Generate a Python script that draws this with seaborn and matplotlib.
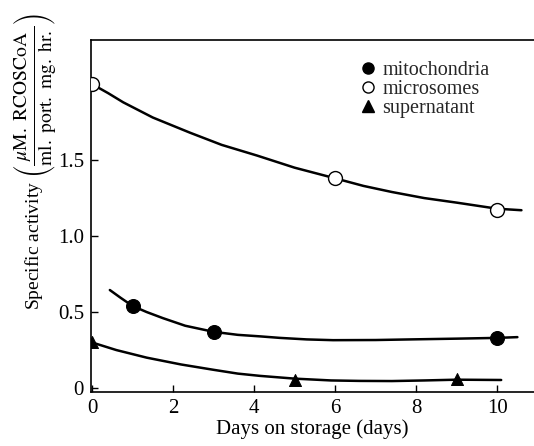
import matplotlib
matplotlib.use("Agg")
import matplotlib.pyplot as plt
import seaborn as sns
import pandas as pd
from matplotlib.lines import Line2D

sns.set_theme(style="ticks")
plt.rcParams['font.family'] = ['Liberation Serif', 'DejaVu Serif']
plt.rcParams['mathtext.fontset'] = 'stix'

# measured points
mito_x = [1, 3, 10]
mito_y = [0.54, 0.37, 0.33]
micro_x = [0, 6, 10]
micro_y = [2.00, 1.38, 1.17]
super_x = [0, 5, 9]
super_y = [0.30, 0.053, 0.06]

# hand-drawn fitted curves
mito_cx = [0.44, 0.7, 1.0, 1.35, 1.75, 2.3, 3.0, 3.6, 4.15, 4.64, 5.3, 5.95,
           7.0, 7.85, 9.0, 10.0, 10.5]
mito_cy = [0.645, 0.595, 0.54, 0.50, 0.46, 0.41, 0.37, 0.35, 0.34, 0.33,
           0.32, 0.315, 0.316, 0.32, 0.325, 0.33, 0.335]
micro_cx = [0.0, 0.4, 0.77, 1.5, 2.42, 3.2, 4.07, 5.0, 6.0, 6.7, 7.4, 8.2,
            9.0, 9.5, 10.0, 10.3, 10.6]
micro_cy = [2.00, 1.94, 1.88, 1.78, 1.68, 1.60, 1.53, 1.45, 1.38, 1.33, 1.29,
            1.25, 1.22, 1.20, 1.18, 1.175, 1.17]
super_cx = [0.0, 0.6, 1.35, 2.2, 3.0, 3.6, 4.15, 5.0, 5.9, 6.6, 7.4, 8.2,
            9.0, 10.1]
super_cy = [0.30, 0.25, 0.20, 0.155, 0.12, 0.095, 0.08, 0.062, 0.05, 0.047,
            0.046, 0.05, 0.055, 0.053]

xticks = [0, 2, 4, 6, 8, 10]
yticks = [0, 0.5, 1.0, 1.5]
yticklabels = ["0", "0.5", "1.0", "1.5"]

fig = plt.figure(figsize=(5.34, 4.46), dpi=100)
ax = fig.add_axes([91/534, 1-392/446, 1-91/534, 352/446])

for cx, cy in [(mito_cx, mito_cy), (micro_cx, micro_cy), (super_cx, super_cy)]:
    sns.lineplot(x=cx, y=cy, ax=ax, color="black", lw=1.8, sort=False,
                 estimator=None, legend=False)

ms = 100
sns.scatterplot(x=mito_x, y=mito_y, ax=ax, marker="o", s=ms, color="black",
                edgecolor="black", zorder=5, legend=False)
sns.scatterplot(x=micro_x, y=micro_y, ax=ax, marker="o", s=ms, color="white",
                edgecolor="black", linewidth=1.0, zorder=5, legend=False)
sns.scatterplot(x=super_x, y=super_y, ax=ax, marker="^", s=75, color="black",
                edgecolor="black", zorder=5, legend=False)

ax.set_xlim(-0.025, 10.91)
ax.set_ylim(-0.026, 2.29)
ax.set_xticks(xticks)
ax.set_xticklabels([str(t) for t in xticks])
ax.set_yticks(yticks)
ax.set_yticklabels(yticklabels)
ax.tick_params(direction="in", length=5, width=1, labelsize=15, colors="black",
               pad=5)
for s in ["left", "bottom", "top"]:
    ax.spines[s].set_color("black")
    ax.spines[s].set_linewidth(1.2)
ax.spines["right"].set_visible(False)

ax.set_xlabel("Days on storage (days)", fontsize=15, color="black", labelpad=1)
ax.set_ylabel(r"Specific activity $\left(\dfrac{\mu\mathrm{M.\ RCOSCoA}}{\mathrm{ml.\ port.\ mg.\ hr.}}\right)$",
              fontsize=14, color="black")
ax.yaxis.set_label_coords(-0.075, 0.655)

handles = [
    Line2D([], [], marker="o", ls="", color="black", markersize=8),
    Line2D([], [], marker="o", ls="", markerfacecolor="white",
           markeredgecolor="black", markersize=8),
    Line2D([], [], marker="^", ls="", color="black", markersize=8),
]
ax.legend(handles, ["mitochondria", "microsomes", "supernatant"],
          loc="upper left", bbox_to_anchor=((360-91)/443, (392-61)/352),
          frameon=False, fontsize=14.5, handlelength=0.8, handletextpad=0.3,
          labelspacing=0.0, borderaxespad=0, borderpad=0)

fig.savefig("out.png", dpi=100)
